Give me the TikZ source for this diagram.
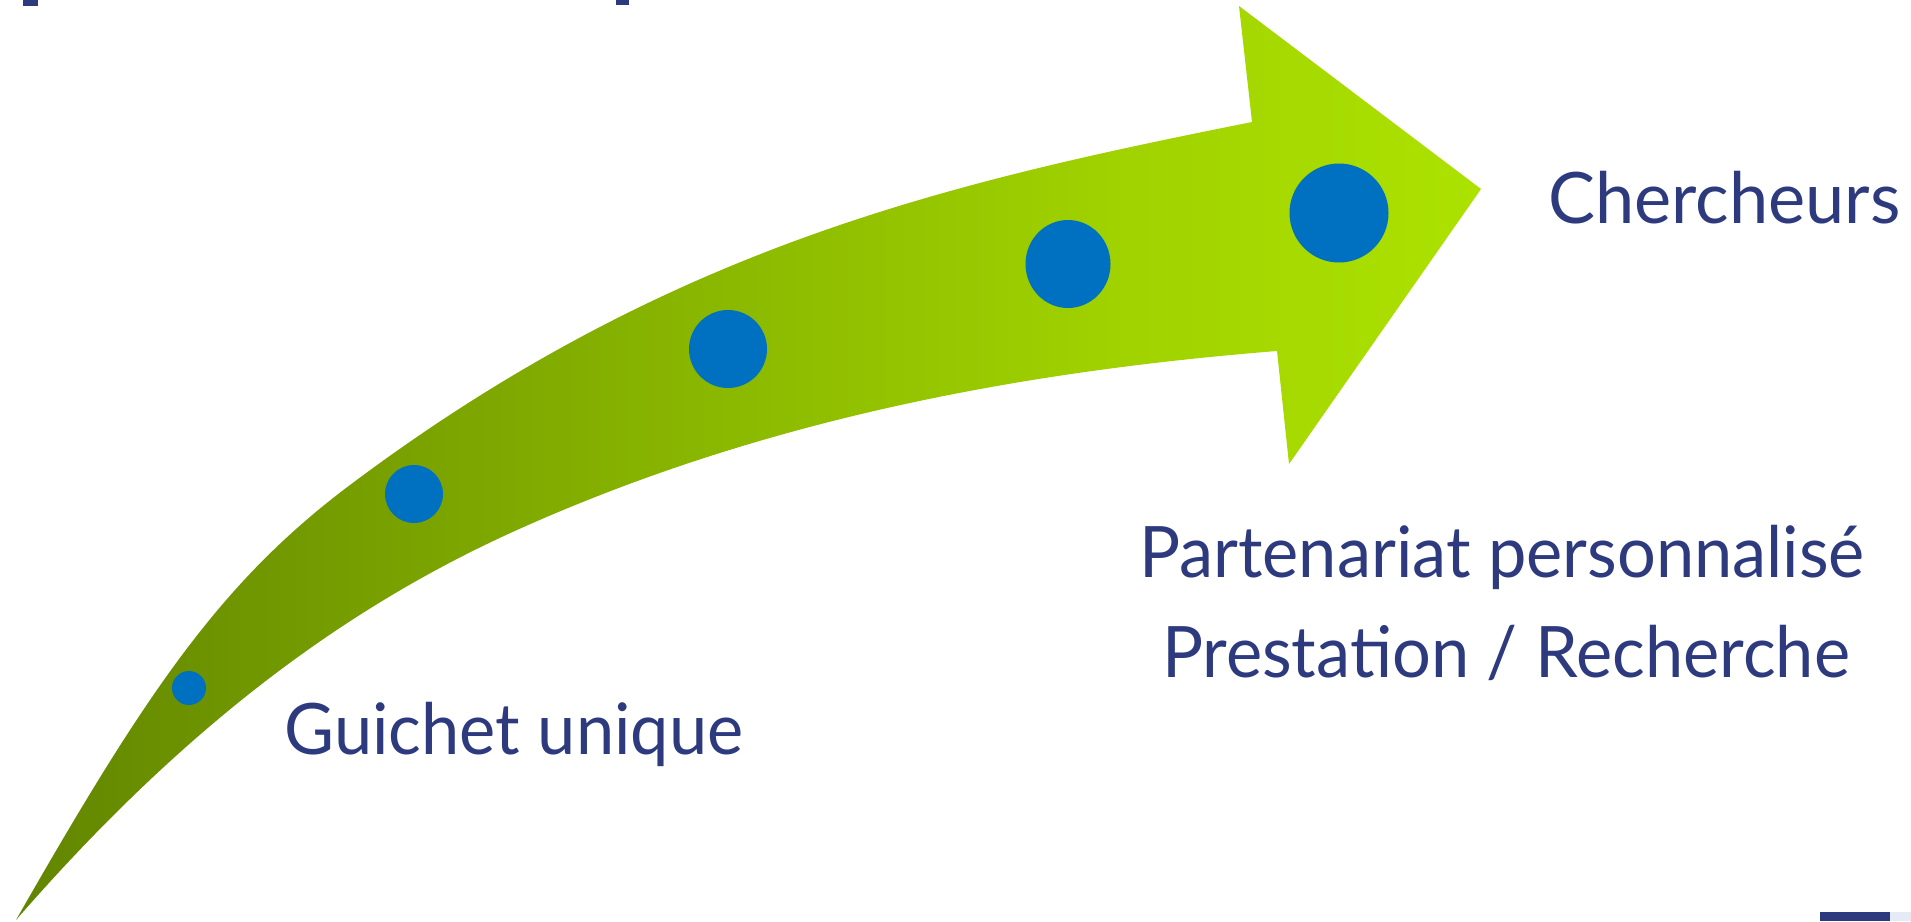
\documentclass[tikz,border=0pt]{standalone}
\usepackage{fontspec}
\setmainfont{Lato}
\definecolor{navy}{RGB}{46,58,126}
\definecolor{dotblue}{RGB}{0,112,192}
\definecolor{gA}{RGB}{98,133,0}
\definecolor{gB}{RGB}{120,160,0}
\definecolor{gC}{RGB}{140,186,0}
\definecolor{gD}{RGB}{160,210,0}
\definecolor{gE}{RGB}{172,226,0}
\definecolor{paleblue}{RGB}{228,234,246}
\pgfdeclarehorizontalshading{arrowgrad}{100bp}{color(0bp)=(gA); color(25bp)=(gA); color(37.5bp)=(gB); color(50bp)=(gC); color(62.5bp)=(gD); color(75bp)=(gE); color(100bp)=(gE)}
\begin{document}
\begin{tikzpicture}[x=1pt,y=-1pt,
  lbl/.style={text=navy, inner sep=0pt, anchor=base, font=\fontsize{71}{80}\selectfont},
  bluedot/.style={fill=dotblue}]
\useasboundingbox (0,0) rectangle (1911,921);
% curved arrow
\shade[shading=arrowgrad]
  (16,920) .. controls (146,692.5) and (220,582.5) .. (350,485)
  .. controls (670,245) and (952,182) .. (1252,122)
  -- (1239,6) -- (1481,189) -- (1289,464) -- (1277,351)
  .. controls (1027,371) and (767,417.5) .. (517,530)
  .. controls (347,606.5) and (186,724.5) .. (16,920)
  -- cycle;
% dots
\fill[bluedot] (189,688) circle[radius=17];
\fill[bluedot] (414,494) circle[radius=29];
\fill[bluedot] (728,349) circle[radius=39];
\fill[bluedot] (1068,264) ellipse[x radius=42.5, y radius=44];
\fill[bluedot] (1339,213) circle[radius=49.5];
% labels
\node[lbl] (chercheurs) at (1724.5,223) {\scalebox{0.99}[1]{Chercheurs}};
\node[lbl] (partenariat) at (1502,577) {\scalebox{0.965}[1]{Partenariat personnalisé}};
\node[lbl] (prestation) at (1506,677) {\scalebox{0.965}[1]{Prestation / Recherche}};
\node[lbl, anchor=base west] (guichet) at (284.5,754) {\scalebox{0.965}[1]{Guichet unique}};
% cut-off fragments at the edges
\fill[navy] (23,0) rectangle (38,6);
\fill[navy] (616,0) rectangle (629,5);
\fill[navy] (1820,912) rectangle (1890,921);
\fill[paleblue] (1890,912) rectangle (1911,921);
\end{tikzpicture}
\end{document}
